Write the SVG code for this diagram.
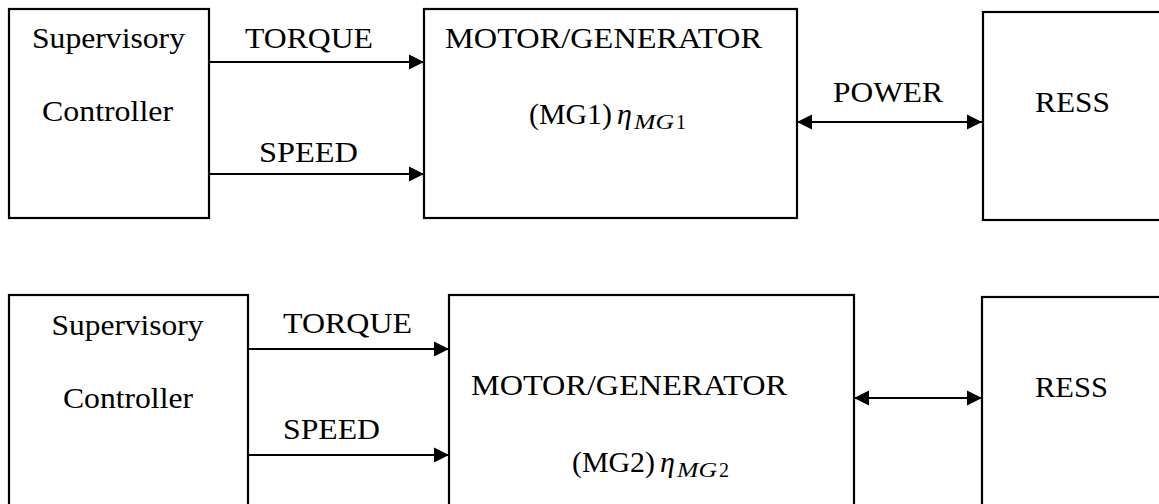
<svg xmlns="http://www.w3.org/2000/svg" width="1159" height="504" viewBox="0 0 1159 504">
<style>
.box{fill:#fff;stroke:#000;stroke-width:2.2}
.t{font-family:"Liberation Serif","Times New Roman",serif;font-size:30px;fill:#000;text-anchor:middle}
.ts{font-family:"Liberation Serif","Times New Roman",serif;font-size:30px;fill:#000}
.eta{font-style:italic}
.sub{font-style:italic;font-size:20px}
.up{font-style:normal}
.c{stroke:#000;stroke-width:2.2;fill:none}
</style>
<defs>
<marker id="ah" markerUnits="userSpaceOnUse" markerWidth="16" markerHeight="16" refX="15" refY="8" orient="auto-start-reverse" viewBox="0 0 16 16">
<path d="M0,0.5 L15,8 L0,15.5 Z" fill="#000"/>
</marker>
</defs>
<rect width="1159" height="504" fill="#fff"/>
<g id="sup1"><rect class="box" x="9" y="9" width="200" height="209"/>
<text class="t" x="108.5" y="48" textLength="153" lengthAdjust="spacingAndGlyphs">Supervisory</text>
<text class="t" x="107.5" y="121" textLength="131" lengthAdjust="spacingAndGlyphs">Controller</text></g>
<g id="mg1"><rect class="box" x="424" y="9" width="373" height="209"/>
<text class="t" x="603.5" y="48" textLength="317" lengthAdjust="spacingAndGlyphs">MOTOR/GENERATOR</text>
<text class="ts" x="529" y="124"><tspan textLength="83" lengthAdjust="spacingAndGlyphs">(MG1)</tspan><tspan class="eta" x="617">η</tspan><tspan class="sub" x="634" y="129" textLength="40" lengthAdjust="spacingAndGlyphs">MG</tspan><tspan class="sub up" x="676" y="129">1</tspan></text></g>
<g id="ress1"><rect class="box" x="983" y="12" width="220" height="208"/>
<text class="t" x="1072.5" y="112" textLength="75" lengthAdjust="spacingAndGlyphs">RESS</text></g>
<g id="sup2"><rect class="box" x="9" y="295" width="239" height="260"/>
<text class="t" x="127.5" y="335" textLength="152" lengthAdjust="spacingAndGlyphs">Supervisory</text>
<text class="t" x="128" y="408" textLength="130" lengthAdjust="spacingAndGlyphs">Controller</text></g>
<g id="mg2"><rect class="box" x="449" y="295" width="405" height="260"/>
<text class="t" x="629" y="395" textLength="316" lengthAdjust="spacingAndGlyphs">MOTOR/GENERATOR</text>
<text class="ts" x="572" y="472"><tspan textLength="83" lengthAdjust="spacingAndGlyphs">(MG2)</tspan><tspan class="eta" x="660">η</tspan><tspan class="sub" x="677" y="477" textLength="40" lengthAdjust="spacingAndGlyphs">MG</tspan><tspan class="sub up" x="719" y="477">2</tspan></text></g>
<g id="ress2"><rect class="box" x="982" y="297" width="220" height="260"/>
<text class="t" x="1071.5" y="397" textLength="73" lengthAdjust="spacingAndGlyphs">RESS</text></g>
<g id="connectors">
<line class="c" x1="209" y1="62" x2="424" y2="62" marker-end="url(#ah)"/>
<line class="c" x1="209" y1="174" x2="424" y2="174" marker-end="url(#ah)"/>
<line class="c" x1="797" y1="122" x2="982" y2="122" marker-start="url(#ah)" marker-end="url(#ah)"/>
<line class="c" x1="248" y1="349" x2="449" y2="349" marker-end="url(#ah)"/>
<line class="c" x1="248" y1="455" x2="449" y2="455" marker-end="url(#ah)"/>
<line class="c" x1="854" y1="398" x2="982" y2="398" marker-start="url(#ah)" marker-end="url(#ah)"/>
<text class="t" x="309" y="48" textLength="128" lengthAdjust="spacingAndGlyphs">TORQUE</text>
<text class="t" x="308.5" y="162" textLength="99" lengthAdjust="spacingAndGlyphs">SPEED</text>
<text class="t" x="888" y="102" textLength="110" lengthAdjust="spacingAndGlyphs">POWER</text>
<text class="t" x="347.5" y="333" textLength="129" lengthAdjust="spacingAndGlyphs">TORQUE</text>
<text class="t" x="331.5" y="439" textLength="97" lengthAdjust="spacingAndGlyphs">SPEED</text>
</g>
</svg>
